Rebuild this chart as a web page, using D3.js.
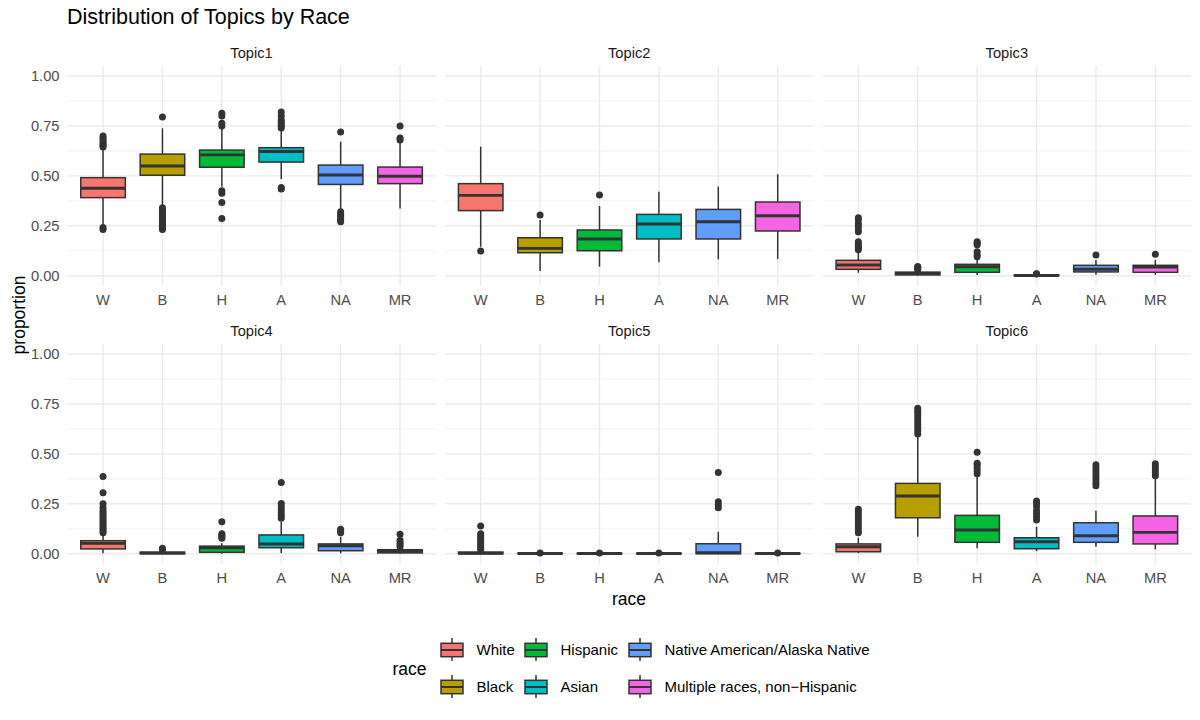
<!DOCTYPE html>
<html>
<head>
<meta charset="utf-8">
<script src="https://cdn.jsdelivr.net/npm/d3@7"></script>
<style>
  body { margin: 0; background: #ffffff; }
  svg { display: block; }
  text { font-family: "Liberation Sans", Arial, Helvetica, sans-serif; }
</style>
</head>
<body>
<svg id="chart" width="1200" height="720"></svg>
<script>
// ---------------- DATA ----------------
const races = ["W", "B", "H", "A", "NA", "MR"];
const raceNames = ["White", "Black", "Hispanic", "Asian", "Native American/Alaska Native", "Multiple races, non\u2212Hispanic"];
const raceColors = ["#F8766D", "#B79F00", "#00BA38", "#00BFC4", "#619CFF", "#F564E3"];
const topics = ["Topic1", "Topic2", "Topic3", "Topic4", "Topic5", "Topic6"];
const yTicks = [0, 0.25, 0.5, 0.75, 1];
const yTickLabels = ["0.00", "0.25", "0.50", "0.75", "1.00"];

// box stats per race: [lowerWhisker, q1, median, q3, upperWhisker]
const topic1Stats = [
  [0.255, 0.391, 0.438, 0.491, 0.640],
  [0.345, 0.503, 0.549, 0.609, 0.738],
  [0.446, 0.543, 0.605, 0.629, 0.735],
  [0.484, 0.569, 0.622, 0.641, 0.735],
  [0.329, 0.457, 0.504, 0.554, 0.671],
  [0.337, 0.461, 0.498, 0.544, 0.671]
];
const topic1Outliers = [
  [0.232, 0.241, 0.645, 0.652, 0.66, 0.668, 0.68, 0.69, 0.70],
  [0.232, 0.24, 0.248, 0.256, 0.264, 0.272, 0.28, 0.29, 0.30, 0.31, 0.32, 0.33, 0.34, 0.795],
  [0.287, 0.366, 0.413, 0.426, 0.75, 0.763, 0.80, 0.813],
  [0.434, 0.442, 0.74, 0.75, 0.76, 0.77, 0.78, 0.80, 0.82],
  [0.27, 0.28, 0.29, 0.30, 0.31, 0.32, 0.72],
  [0.68, 0.69, 0.75]
];
const topic2Stats = [
  [0.145, 0.326, 0.402, 0.461, 0.646],
  [0.024, 0.115, 0.137, 0.190, 0.279],
  [0.045, 0.125, 0.184, 0.229, 0.349],
  [0.067, 0.184, 0.259, 0.307, 0.421],
  [0.082, 0.184, 0.270, 0.332, 0.446],
  [0.084, 0.224, 0.300, 0.369, 0.508]
];
const topic2Outliers = [
  [0.124],
  [0.304],
  [0.404],
  [],
  [],
  []
];
const topic3Stats = [
  [0.015, 0.032, 0.054, 0.077, 0.125],
  [0.000, 0.004, 0.011, 0.018, 0.026],
  [0.004, 0.017, 0.045, 0.057, 0.079],
  [0.000, 0.000, 0.001, 0.004, 0.006],
  [0.005, 0.019, 0.032, 0.052, 0.079],
  [0.005, 0.017, 0.044, 0.052, 0.079]
];
const topic3Outliers = [
  [0.13, 0.14, 0.15, 0.16, 0.17, 0.22, 0.235, 0.25, 0.26, 0.28, 0.29],
  [0.03, 0.036, 0.042, 0.046],
  [0.095, 0.105, 0.12, 0.155, 0.163, 0.17],
  [0.008, 0.01],
  [0.104],
  [0.107]
];
const topic4Stats = [
  [0.002, 0.024, 0.052, 0.065, 0.100],
  [0.000, 0.000, 0.003, 0.008, 0.015],
  [0.000, 0.007, 0.030, 0.038, 0.052],
  [0.003, 0.030, 0.049, 0.094, 0.160],
  [0.002, 0.015, 0.040, 0.049, 0.085],
  [0.000, 0.004, 0.012, 0.020, 0.032]
];
const topic4Outliers = [
  [0.105, 0.115, 0.125, 0.135, 0.145, 0.155, 0.165, 0.175, 0.185, 0.195, 0.205, 0.215, 0.23, 0.25, 0.305, 0.386],
  [0.02, 0.027],
  [0.077, 0.085, 0.092, 0.10, 0.16],
  [0.177, 0.19, 0.205, 0.22, 0.235, 0.252, 0.357],
  [0.105, 0.115, 0.122],
  [0.035, 0.045, 0.055, 0.068, 0.097]
];
const topic5Stats = [
  [0.000, 0.000, 0.002, 0.008, 0.015],
  [0.000, 0.000, 0.001, 0.002, 0.003],
  [0.000, 0.000, 0.001, 0.002, 0.003],
  [0.000, 0.000, 0.001, 0.002, 0.003],
  [0.000, 0.000, 0.005, 0.050, 0.110],
  [0.000, 0.000, 0.001, 0.002, 0.003]
];
const topic5Outliers = [
  [0.02, 0.03, 0.04, 0.05, 0.06, 0.07, 0.08, 0.09, 0.1, 0.139],
  [0.004],
  [0.004],
  [0.004],
  [0.23, 0.245, 0.26, 0.406],
  [0.004]
];
const topic6Stats = [
  [0.003, 0.010, 0.035, 0.049, 0.080],
  [0.085, 0.180, 0.289, 0.352, 0.594],
  [0.027, 0.057, 0.119, 0.192, 0.389],
  [0.013, 0.025, 0.060, 0.080, 0.135],
  [0.035, 0.057, 0.090, 0.155, 0.215],
  [0.022, 0.049, 0.107, 0.189, 0.386]
];
const topic6Outliers = [
  [0.105, 0.12, 0.135, 0.15, 0.165, 0.18, 0.195, 0.21, 0.222],
  [0.60, 0.615, 0.63, 0.645, 0.66, 0.675, 0.69, 0.705, 0.715, 0.728],
  [0.40, 0.415, 0.43, 0.445, 0.453, 0.508],
  [0.169, 0.185, 0.20, 0.215, 0.235, 0.25, 0.264],
  [0.34, 0.355, 0.37, 0.385, 0.40, 0.415, 0.43, 0.445],
  [0.39, 0.405, 0.42, 0.435, 0.45]
];

const allStats = [topic1Stats, topic2Stats, topic3Stats, topic4Stats, topic5Stats, topic6Stats];
const allOutliers = [topic1Outliers, topic2Outliers, topic3Outliers, topic4Outliers, topic5Outliers, topic6Outliers];

// ---------------- LAYOUT ----------------
const svg = d3.select("#chart");
const panelLeft0 = 67.4, panelStep = 377.65, panelW = 368.3;
const rowTop = [66, 344], panelH = 219.7;
const grid = "#EBEBEB", ink = "#333333", axisText = "#4D4D4D";
const smallFont = 14.7, legendFont = 15, axisTitleFont = 17.5, titleFont = 21.5;

svg.append("text").attr("x", 67).attr("y", 24)
  .attr("font-size", titleFont).attr("fill", "#000").text("Distribution of Topics by Race");

topics.forEach((topic, ti) => {
  const col = ti % 3, row = Math.floor(ti / 3);
  const left = panelLeft0 + col * panelStep;
  const top = rowTop[row];
  const x = d3.scalePoint().domain(races).range([left, left + panelW]).padding(0.6);
  const y = d3.scaleLinear().domain([-0.05, 1.05]).range([top + panelH, top]);
  const step = x.step();
  const g = svg.append("g");

  // minor grid
  const minor = [0.125, 0.375, 0.625, 0.875];
  g.selectAll(".minor").data(minor).enter().append("line")
    .attr("x1", left).attr("x2", left + panelW)
    .attr("y1", d => y(d)).attr("y2", d => y(d))
    .attr("stroke", grid).attr("stroke-width", 0.71);
  // major grid
  g.selectAll(".major").data(yTicks).enter().append("line")
    .attr("x1", left).attr("x2", left + panelW)
    .attr("y1", d => y(d)).attr("y2", d => y(d))
    .attr("stroke", grid).attr("stroke-width", 1.42);
  g.selectAll(".vmajor").data(races).enter().append("line")
    .attr("x1", d => x(d)).attr("x2", d => x(d))
    .attr("y1", top).attr("y2", top + panelH)
    .attr("stroke", grid).attr("stroke-width", 1.42);

  // strip
  svg.append("text").attr("x", left + panelW / 2).attr("y", top - 8)
    .attr("text-anchor", "middle").attr("font-size", smallFont).attr("fill", "#1A1A1A").text(topic);

  // x tick labels
  g.selectAll(".xl").data(races).enter().append("text")
    .attr("x", d => x(d)).attr("y", top + panelH + 19.5)
    .attr("text-anchor", "middle").attr("font-size", smallFont).attr("fill", axisText).text(d => d);

  // y tick labels (left column)
  if (col === 0) {
    g.selectAll(".yl").data(yTicks).enter().append("text")
      .attr("x", 59.5).attr("y", d => y(d)).attr("dy", "0.35em")
      .attr("text-anchor", "end").attr("font-size", smallFont).attr("fill", axisText)
      .text((d, i) => yTickLabels[i]);
  }

  const bw = step * 0.75;
  const stats = allStats[ti], outs = allOutliers[ti];
  races.forEach((r, ri) => {
    const s = stats[ri];
    const cx = x(r);
    // whiskers
    g.append("line").attr("x1", cx).attr("x2", cx).attr("y1", y(s[3])).attr("y2", y(s[4]))
      .attr("stroke", ink).attr("stroke-width", 1.5);
    g.append("line").attr("x1", cx).attr("x2", cx).attr("y1", y(s[1])).attr("y2", y(s[0]))
      .attr("stroke", ink).attr("stroke-width", 1.5);
    // box
    g.append("rect").attr("x", cx - bw / 2).attr("y", y(s[3]))
      .attr("width", bw).attr("height", Math.max(0, y(s[1]) - y(s[3])))
      .attr("fill", raceColors[ri]).attr("stroke", ink).attr("stroke-width", 1.5);
    // median
    g.append("line").attr("x1", cx - bw / 2).attr("x2", cx + bw / 2)
      .attr("y1", y(s[2])).attr("y2", y(s[2]))
      .attr("stroke", ink).attr("stroke-width", 2.9);
    // outliers
    g.selectAll(null).data(outs[ri]).enter().append("circle")
      .attr("cx", cx).attr("cy", d => y(d)).attr("r", 3.5).attr("fill", ink);
  });
});

// axis titles
svg.append("text").attr("transform", "translate(25,315) rotate(-90)")
  .attr("text-anchor", "middle").attr("font-size", axisTitleFont).attr("fill", "#000").text("proportion");
svg.append("text").attr("x", 629).attr("y", 605)
  .attr("text-anchor", "middle").attr("font-size", axisTitleFont).attr("fill", "#000").text("race");

// legend
const legend = svg.append("g");
legend.append("text").attr("x", 392.5).attr("y", 675)
  .attr("font-size", axisTitleFont).attr("fill", "#000").text("race");
const legendCols = [441, 525, 629];
const legendRows = [650, 687];
const legendOrder = d3.range(6).map(i => ({ i, col: Math.floor(i / 2), row: i % 2 }));
legendOrder.forEach(o => {
  const kx = legendCols[o.col], ky = legendRows[o.row];
  const kg = legend.append("g");
  kg.append("line").attr("x1", kx + 11).attr("x2", kx + 11).attr("y1", ky - 12).attr("y2", ky + 11)
    .attr("stroke", ink).attr("stroke-width", 1.5);
  kg.append("rect").attr("x", kx).attr("y", ky - 6.7).attr("width", 22).attr("height", 13.4)
    .attr("fill", raceColors[o.i]).attr("stroke", ink).attr("stroke-width", 1.5);
  kg.append("line").attr("x1", kx).attr("x2", kx + 22).attr("y1", ky).attr("y2", ky)
    .attr("stroke", ink).attr("stroke-width", 2.0);
  kg.append("text").attr("x", kx + 35.5).attr("y", ky).attr("dy", "0.35em")
    .attr("font-size", legendFont).attr("fill", "#000").text(raceNames[o.i]);
});
</script>
</body>
</html>
